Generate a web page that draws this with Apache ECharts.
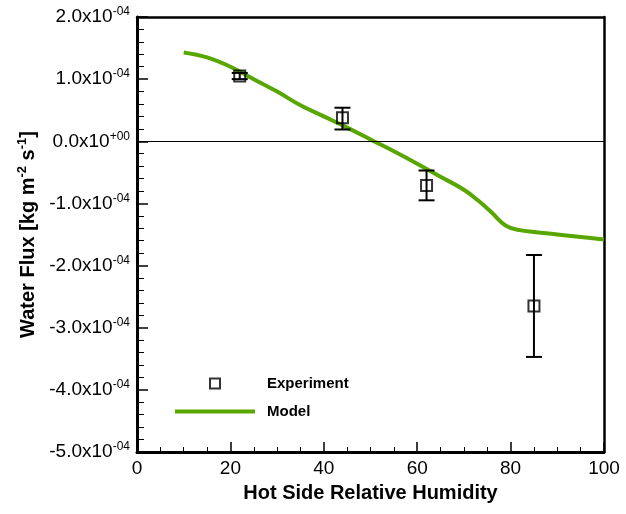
<!DOCTYPE html>
<html>
<head>
<meta charset="utf-8">
<script src="https://cdn.jsdelivr.net/npm/echarts@6/dist/echarts.min.js"></script>
<style>
html,body{margin:0;padding:0;background:#fff;}
#c{width:626px;height:514px;}
</style>
</head>
<body>
<div id="c"></div>
<script>
// Experiment: hot side RH, flux, error low, error high (kg m^-2 s^-1)
var expX    = [22, 44, 62, 85];
var expY    = [1.05e-4, 0.38e-4, -0.71e-4, -2.65e-4];
var expLow  = [1.00e-4, 0.19e-4, -0.95e-4, -3.47e-4];
var expHigh = [1.10e-4, 0.54e-4, -0.47e-4, -1.83e-4];

// Model curve
var modelX = [10, 15, 20, 25, 30, 35, 40, 45, 50, 55, 60, 65, 70, 73, 76, 79, 82, 85, 90, 95, 100];
var modelY = [1.43e-4, 1.35e-4, 1.20e-4, 1.00e-4, 0.80e-4, 0.58e-4, 0.40e-4, 0.22e-4, 0.03e-4, -0.16e-4,
              -0.36e-4, -0.57e-4, -0.78e-4, -0.95e-4, -1.15e-4, -1.36e-4, -1.43e-4, -1.46e-4, -1.50e-4, -1.54e-4, -1.58e-4];

var xTicks = [0, 20, 40, 60, 80, 100];
var yMantissa = ['-5.0', '-4.0', '-3.0', '-2.0', '-1.0', '0.0', '1.0', '2.0'];
var yExponent = ['-04', '-04', '-04', '-04', '-04', '+00', '-04', '-04'];

var FONT = '"Liberation Sans", Arial, sans-serif';
var chart = echarts.init(document.getElementById('c'));

var expData = expX.map(function (x, i) { return [x, expY[i]]; });
var errData = expX.map(function (x, i) { return [x, expLow[i], expHigh[i]]; });
var modelData = modelX.map(function (x, i) { return [x, modelY[i]]; });

chart.setOption({
  animation: false,
  backgroundColor: '#fff',
  textStyle: { fontFamily: FONT },
  grid: { left: 137, top: 17, right: 22, bottom: 62 },
  legend: {
    orient: 'vertical',
    left: 175,
    top: 376,
    padding: 0,
    itemWidth: 80,
    itemHeight: 12,
    itemGap: 13,
    symbolKeepAspect: true,
    formatter: function (name) { return '{a|' + name + '}'; },
    textStyle: {
      fontFamily: FONT, fontWeight: 'bold', fontSize: 15, color: '#000',
      rich: { a: { fontFamily: FONT, fontWeight: 'bold', fontSize: 15, color: '#000', padding: [0, 0, 0, 7] } }
    },
    data: [
      { name: 'Experiment', icon: 'path://M0,0H12V12H0Z M2,2V10H10V2Z', itemStyle: { color: '#000', borderWidth: 0 } },
      { name: 'Model', icon: 'path://M0,0H80V4H0Z', itemStyle: { color: '#58a600', borderWidth: 0 } }
    ]
  },
  xAxis: [{
    type: 'value',
    min: xTicks[0], max: xTicks[xTicks.length - 1], interval: 20,
    name: 'Hot Side Relative Humidity',
    nameLocation: 'middle',
    nameGap: 31,
    nameTextStyle: { fontFamily: FONT, fontWeight: 'bold', fontSize: 20, color: '#000' },
    axisLine: { show: true, onZero: false, lineStyle: { color: '#000', width: 3 } },
    axisTick: { show: true, inside: true, length: 10, lineStyle: { color: '#000', width: 1.5 } },
    minorTick: { show: true, splitNumber: 4, length: 5, lineStyle: { color: '#000', width: 1 } },
    axisLabel: { fontFamily: FONT, fontSize: 19, color: '#000', margin: 7 },
    splitLine: { show: false }
  }, {
    type: 'value', position: 'top',
    min: 0, max: 100,
    axisLine: { show: true, onZero: false, lineStyle: { color: '#000', width: 2.5 } },
    axisTick: { show: false }, axisLabel: { show: false }, splitLine: { show: false }
  }],
  yAxis: [{
    type: 'value',
    min: -5e-4, max: 2e-4, interval: 1e-4,
    name: '{b|Water Flux [kg m}{s|-2}{b| s}{s|-1}{b|]}',
    nameLocation: 'middle',
    nameGap: 95,
    nameRotate: 90,
    nameTextStyle: {
      rich: {
        b: { fontFamily: FONT, fontWeight: 'bold', fontSize: 20, color: '#000' },
        s: { fontFamily: FONT, fontWeight: 'bold', fontSize: 13, color: '#000', padding: [0, 0, 11, 0] }
      }
    },
    axisLine: { show: true, onZero: false, lineStyle: { color: '#000', width: 3 } },
    axisTick: { show: true, inside: true, length: 11, lineStyle: { color: '#000', width: 1.5 } },
    minorTick: { show: true, splitNumber: 5, length: 7, lineStyle: { color: '#000', width: 1 } },
    axisLabel: {
      margin: 7,
      formatter: function (v) {
        var i = Math.round(v / 1e-4) + 5;
        return '{b|' + yMantissa[i] + 'x10}{s|' + yExponent[i] + '}';
      },
      rich: {
        b: { fontFamily: FONT, fontSize: 19, color: '#000' },
        s: { fontFamily: FONT, fontSize: 12, color: '#000', padding: [0, 0, 10, 0] }
      }
    },
    splitLine: { show: false }
  }, {
    type: 'value', position: 'right',
    min: -5e-4, max: 2e-4,
    axisLine: { show: true, onZero: false, lineStyle: { color: '#000', width: 2.5 } },
    axisTick: { show: false }, axisLabel: { show: false }, splitLine: { show: false }
  }],
  series: [{
    name: 'Model',
    type: 'line',
    data: modelData,
    smooth: 0.4,
    symbol: 'none',
    color: '#58a600',
    lineStyle: { color: '#58a600', width: 4 },
    markLine: {
      silent: true,
      symbol: 'none',
      label: { show: false },
      lineStyle: { color: '#000', width: 1, type: 'solid' },
      data: [{ yAxis: 0 }]
    },
    z: 2
  }, {
    name: 'Experiment error',
    type: 'custom',
    data: errData,
    renderItem: function (params, api) {
      var x = api.value(0);
      var lo = api.coord([x, api.value(1)]);
      var hi = api.coord([x, api.value(2)]);
      var w = 8;
      var st = { stroke: '#000', lineWidth: 2 };
      return {
        type: 'group',
        children: [
          { type: 'line', shape: { x1: lo[0], y1: lo[1], x2: hi[0], y2: hi[1] }, style: st },
          { type: 'line', shape: { x1: lo[0] - w, y1: lo[1], x2: lo[0] + w, y2: lo[1] }, style: st },
          { type: 'line', shape: { x1: hi[0] - w, y1: hi[1], x2: hi[0] + w, y2: hi[1] }, style: st }
        ]
      };
    },
    z: 3
  }, {
    name: 'Experiment',
    type: 'scatter',
    data: expData,
    symbol: 'rect',
    symbolSize: 11,
    itemStyle: { color: 'rgba(0,0,0,0)', borderColor: '#000', borderWidth: 2 },
    z: 4
  }]
});
</script>
</body>
</html>
